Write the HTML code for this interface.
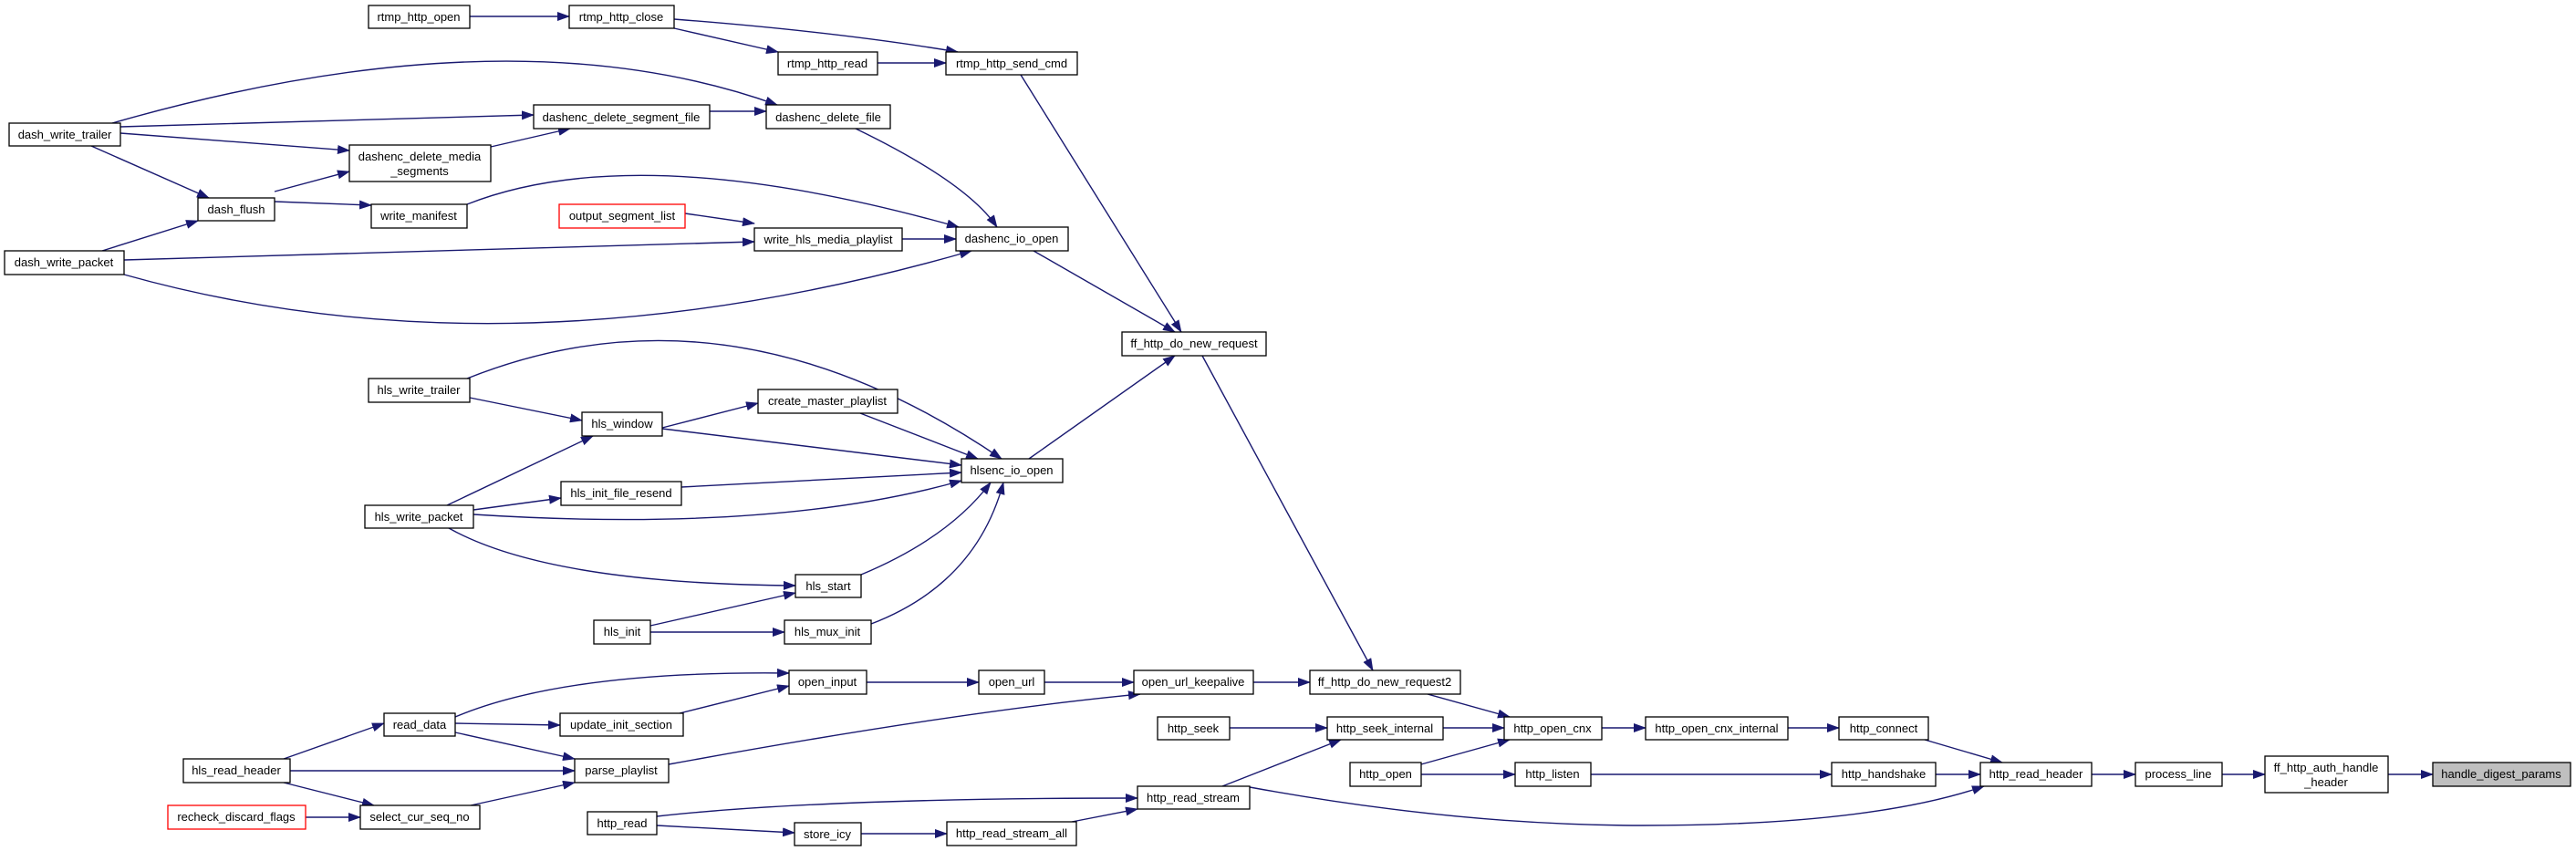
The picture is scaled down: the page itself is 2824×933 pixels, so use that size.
<!DOCTYPE html>
<html><head><meta charset="utf-8"><style>
html,body{margin:0;padding:0;background:#fff;}
svg{display:block;}
text{font-family:"Liberation Sans",sans-serif;font-size:13px;fill:#000;}
</style></head><body>
<svg width="2824" height="933" viewBox="0 0 2824 933" xmlns="http://www.w3.org/2000/svg">
<defs>
<marker id="a" markerWidth="14" markerHeight="10" refX="13" refY="5" orient="auto" markerUnits="userSpaceOnUse">
<path d="M0,0 L14,5 L0,10 z" fill="#191970"/>
</marker>
</defs>
<g fill="none" stroke="#191970" stroke-width="1.4" marker-end="url(#a)">
<path d="M515,18 L624,18"/>
<path d="M739,21 Q920,35 1050,57"/>
<path d="M739,31 L853,57"/>
<path d="M962,69 L1037,69"/>
<path d="M1119,82 L1295,364"/>
<path d="M123,135 Q560,10 852,115"/>
<path d="M132,139 L585,126"/>
<path d="M132,146 L383,165"/>
<path d="M100,160 L229,217"/>
<path d="M778,122 L840,122"/>
<path d="M538,161 L625,141"/>
<path d="M938,141 Q1060,200 1093,249"/>
<path d="M301,210 L383,188"/>
<path d="M301,221 L407,225"/>
<path d="M512,224 Q700,150 1051,249"/>
<path d="M751,234 L827,245"/>
<path d="M136,285 L827,265"/>
<path d="M112,275 L217,242"/>
<path d="M136,301 Q560,420 1065,275"/>
<path d="M989,262 L1048,262"/>
<path d="M1133,275 L1288,364"/>
<path d="M1318,390 L1505,735"/>
<path d="M512,415 Q800,300 1098,503"/>
<path d="M515,436 L638,461"/>
<path d="M726,469 L831,442"/>
<path d="M943,453 L1072,503"/>
<path d="M726,470 L1054,510"/>
<path d="M747,534 L1054,518"/>
<path d="M519,559 L615,546"/>
<path d="M490,554 L650,478"/>
<path d="M519,564 Q850,585 1054,527"/>
<path d="M492,579 Q600,640 872,642"/>
<path d="M944,630 Q1040,590 1086,529"/>
<path d="M698,693 L860,693"/>
<path d="M713,686 L872,650"/>
<path d="M955,684 Q1070,640 1100,529"/>
<path d="M1128,503 L1288,390"/>
<path d="M311,832 L421,793"/>
<path d="M318,845 L630,845"/>
<path d="M311,858 L410,883"/>
<path d="M335,896 L395,896"/>
<path d="M516,883 L630,858"/>
<path d="M499,786 Q620,735 865,738"/>
<path d="M499,793 L614,795"/>
<path d="M499,803 L630,832"/>
<path d="M745,782 L865,752"/>
<path d="M733,838 Q1050,780 1250,761"/>
<path d="M950,748 L1073,748"/>
<path d="M1145,748 L1243,748"/>
<path d="M1374,748 L1436,748"/>
<path d="M1565,761 L1655,786"/>
<path d="M1348,798 L1455,798"/>
<path d="M1582,798 L1649,798"/>
<path d="M1558,838 L1655,811"/>
<path d="M1558,849 L1661,849"/>
<path d="M1756,798 L1804,798"/>
<path d="M1960,798 L2016,798"/>
<path d="M2110,811 L2195,836"/>
<path d="M1744,849 L2008,849"/>
<path d="M2122,849 L2171,849"/>
<path d="M1370,863 Q1600,905 1800,905 Q2050,905 2175,862"/>
<path d="M1340,862 L1470,811"/>
<path d="M720,895 Q900,875 1247,875"/>
<path d="M720,905 L871,913"/>
<path d="M944,914 L1038,914"/>
<path d="M1175,901 L1247,887"/>
<path d="M2293,849 L2341,849"/>
<path d="M2436,849 L2483,849"/>
<path d="M2618,849 L2667,849"/>
</g>
<g stroke="#000" stroke-width="1.3" fill="#fff">
<rect x="404" y="6" width="111" height="25"/>
<rect x="624" y="6" width="115" height="25"/>
<rect x="853" y="57" width="109" height="25"/>
<rect x="1037" y="57" width="144" height="25"/>
<rect x="585" y="115" width="193" height="26"/>
<rect x="840" y="115" width="136" height="26"/>
<rect x="10" y="135" width="122" height="25"/>
<rect x="383" y="159" width="155" height="40"/>
<rect x="217" y="217" width="84" height="25"/>
<rect x="407" y="224" width="105" height="26"/>
<rect x="613" y="224" width="138" height="26" stroke="#f00"/>
<rect x="827" y="250" width="162" height="25"/>
<rect x="5" y="275" width="131" height="26"/>
<rect x="1048" y="249" width="123" height="26"/>
<rect x="1230" y="364" width="158" height="26"/>
<rect x="404" y="415" width="111" height="26"/>
<rect x="831" y="427" width="153" height="26"/>
<rect x="638" y="452" width="88" height="26"/>
<rect x="1054" y="503" width="111" height="26"/>
<rect x="615" y="528" width="132" height="26"/>
<rect x="400" y="554" width="119" height="25"/>
<rect x="872" y="630" width="72" height="25"/>
<rect x="651" y="680" width="62" height="26"/>
<rect x="860" y="680" width="95" height="26"/>
<rect x="865" y="735" width="85" height="26"/>
<rect x="1073" y="735" width="72" height="26"/>
<rect x="1243" y="735" width="131" height="26"/>
<rect x="1436" y="735" width="165" height="26"/>
<rect x="421" y="782" width="78" height="25"/>
<rect x="614" y="782" width="135" height="25"/>
<rect x="1269" y="786" width="79" height="25"/>
<rect x="1455" y="786" width="127" height="25"/>
<rect x="1649" y="786" width="107" height="25"/>
<rect x="1804" y="786" width="156" height="25"/>
<rect x="2016" y="786" width="98" height="25"/>
<rect x="201" y="832" width="117" height="26"/>
<rect x="630" y="832" width="103" height="26"/>
<rect x="1480" y="836" width="78" height="26"/>
<rect x="1661" y="836" width="83" height="26"/>
<rect x="2008" y="836" width="114" height="26"/>
<rect x="2171" y="836" width="122" height="26"/>
<rect x="2341" y="836" width="95" height="26"/>
<rect x="2483" y="829" width="135" height="40"/>
<rect x="2667" y="836" width="151" height="26" fill="#bfbfbf"/>
<rect x="1247" y="862" width="123" height="25"/>
<rect x="184" y="883" width="151" height="26" stroke="#f00"/>
<rect x="395" y="883" width="131" height="26"/>
<rect x="644" y="890" width="76" height="25"/>
<rect x="871" y="902" width="73" height="25"/>
<rect x="1038" y="901" width="142" height="26"/>
</g>
<g text-anchor="middle">
<text x="459" y="23">rtmp_http_open</text>
<text x="681" y="23">rtmp_http_close</text>
<text x="907" y="74">rtmp_http_read</text>
<text x="1109" y="74">rtmp_http_send_cmd</text>
<text x="681" y="133">dashenc_delete_segment_file</text>
<text x="908" y="133">dashenc_delete_file</text>
<text x="71" y="152">dash_write_trailer</text>
<text x="460" y="176">dashenc_delete_media</text>
<text x="460" y="192">_segments</text>
<text x="259" y="234">dash_flush</text>
<text x="459" y="241">write_manifest</text>
<text x="682" y="241">output_segment_list</text>
<text x="908" y="267">write_hls_media_playlist</text>
<text x="70" y="292">dash_write_packet</text>
<text x="1109" y="266">dashenc_io_open</text>
<text x="1309" y="381">ff_http_do_new_request</text>
<text x="459" y="432">hls_write_trailer</text>
<text x="907" y="444">create_master_playlist</text>
<text x="682" y="469">hls_window</text>
<text x="1109" y="520">hlsenc_io_open</text>
<text x="681" y="545">hls_init_file_resend</text>
<text x="459" y="571">hls_write_packet</text>
<text x="908" y="647">hls_start</text>
<text x="682" y="697">hls_init</text>
<text x="907" y="697">hls_mux_init</text>
<text x="907" y="752">open_input</text>
<text x="1109" y="752">open_url</text>
<text x="1308" y="752">open_url_keepalive</text>
<text x="1518" y="752">ff_http_do_new_request2</text>
<text x="460" y="799">read_data</text>
<text x="681" y="799">update_init_section</text>
<text x="1308" y="803">http_seek</text>
<text x="1518" y="803">http_seek_internal</text>
<text x="1702" y="803">http_open_cnx</text>
<text x="1882" y="803">http_open_cnx_internal</text>
<text x="2065" y="803">http_connect</text>
<text x="259" y="849">hls_read_header</text>
<text x="681" y="849">parse_playlist</text>
<text x="1519" y="853">http_open</text>
<text x="1702" y="853">http_listen</text>
<text x="2065" y="853">http_handshake</text>
<text x="2232" y="853">http_read_header</text>
<text x="2388" y="853">process_line</text>
<text x="2550" y="846">ff_http_auth_handle</text>
<text x="2550" y="862">_header</text>
<text x="2742" y="853">handle_digest_params</text>
<text x="1308" y="879">http_read_stream</text>
<text x="259" y="900">recheck_discard_flags</text>
<text x="460" y="900">select_cur_seq_no</text>
<text x="682" y="907">http_read</text>
<text x="907" y="919">store_icy</text>
<text x="1109" y="918">http_read_stream_all</text>
</g>
</svg>
</body></html>
